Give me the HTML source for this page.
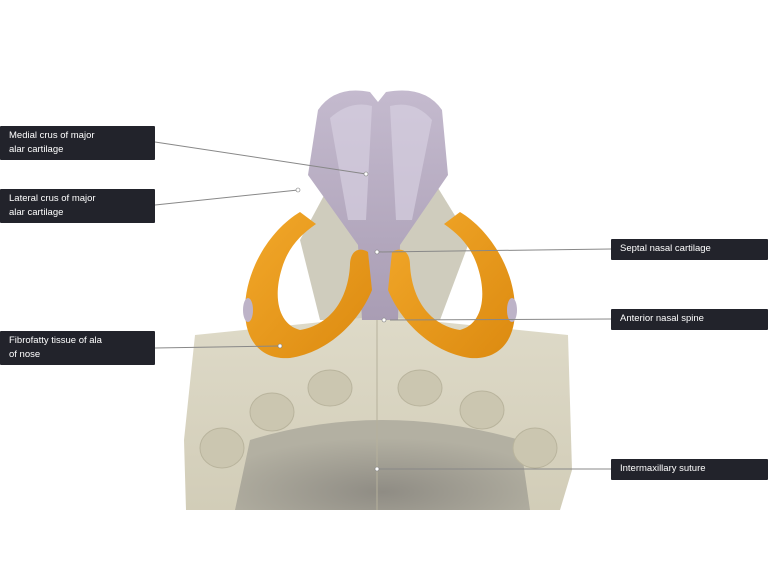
<!DOCTYPE html>
<html><head><style>
body{margin:0;background:#fff;width:768px;height:577px;overflow:hidden;position:relative;font-family:"Liberation Sans",sans-serif}
.l{position:absolute;background:#22232b;color:#fff;font-size:9.5px;line-height:14px;padding:3px 9px;box-sizing:border-box;border-radius:1px}
</style></head><body>
<svg width="768" height="577" style="position:absolute;left:0;top:0">
<defs>
<linearGradient id="bone" x1="0" y1="0" x2="0" y2="1"><stop offset="0" stop-color="#dedac8"/><stop offset="1" stop-color="#d2cdb8"/></linearGradient>
<radialGradient id="pal" cx="0.5" cy="0.8" r="0.6"><stop offset="0" stop-color="#8f8c84"/><stop offset="1" stop-color="#b3b0a2"/></radialGradient>
<linearGradient id="lil" x1="0" y1="0" x2="0" y2="1"><stop offset="0" stop-color="#c4bace"/><stop offset="1" stop-color="#a99db4"/></linearGradient>
<linearGradient id="or" x1="0" y1="0" x2="1" y2="1"><stop offset="0" stop-color="#f2a82a"/><stop offset="1" stop-color="#dc8a10"/></linearGradient>
</defs>
<!-- background gray wings -->
<path d="M335 175 L300 240 L320 320 L440 320 L470 240 L430 175 Z" fill="#cfccbd"/>
<!-- bone plate -->
<path d="M195 335 L380 316 L568 335 L572 470 L560 510 L186 510 L184 440 Z" fill="url(#bone)"/>
<path d="M250 440 Q380 400 520 440 L530 510 L235 510 Z" fill="url(#pal)"/>
<g fill="#cbc6b0" stroke="#b9b49d">
<ellipse cx="222" cy="448" rx="22" ry="20"/><ellipse cx="272" cy="412" rx="22" ry="19"/><ellipse cx="330" cy="388" rx="22" ry="18"/>
<ellipse cx="420" cy="388" rx="22" ry="18"/><ellipse cx="482" cy="410" rx="22" ry="19"/><ellipse cx="535" cy="448" rx="22" ry="20"/>
</g>
<line x1="377" y1="320" x2="377" y2="510" stroke="#b6b19c"/>
<!-- lilac cartilage -->
<path d="M318 110 Q335 85 370 92 L378 102 L386 92 Q425 85 442 110 L448 175 L400 245 L398 320 L362 320 L358 245 L308 175 Z" fill="url(#lil)"/>
<path d="M330 118 Q350 100 372 106 L366 220 L348 220 Z" fill="#d6cee0" opacity=".7"/>
<path d="M390 106 Q415 100 432 120 L412 220 L396 220 Z" fill="#d6cee0" opacity=".7"/>
<!-- orange crura (U-shaped) -->
<path d="M300 212 C270 230 245 270 245 310 C245 345 265 360 290 358 C330 352 360 320 372 290 L368 252 C358 246 350 252 350 265 C348 300 330 325 300 330 C280 325 272 300 282 268 C288 248 300 235 316 224 Z" fill="url(#or)"/>
<path d="M460 212 C490 230 515 270 515 310 C515 345 495 360 470 358 C430 352 400 320 388 290 L392 252 C402 246 410 252 410 265 C412 300 430 325 460 330 C480 325 488 300 478 268 C472 248 460 235 444 224 Z" fill="url(#or)"/>
<ellipse cx="248" cy="310" rx="5" ry="12" fill="#bdb3c8"/><ellipse cx="512" cy="310" rx="5" ry="12" fill="#bdb3c8"/>
<g stroke="#888" stroke-width="1" fill="none">
<line x1="155" y1="142" x2="366" y2="174"/>
<line x1="155" y1="205" x2="298" y2="190"/>
<line x1="155" y1="348" x2="280" y2="346"/>
<line x1="611" y1="249" x2="377" y2="252"/>
<line x1="611" y1="319" x2="390" y2="320"/>
<line x1="611" y1="469" x2="377" y2="469"/>
</g>
<g fill="#fff" stroke="#777" stroke-width=".6">
<circle cx="366" cy="174" r="2"/><circle cx="298" cy="190" r="2"/><circle cx="280" cy="346" r="2"/>
<circle cx="377" cy="252" r="2"/><circle cx="384" cy="320" r="2"/><circle cx="377" cy="469" r="2"/>
</g>
</svg>
<div class="l" style="left:0;top:126px;width:155px;height:34px">Medial crus of major<br>alar cartilage</div>
<div class="l" style="left:0;top:189px;width:155px;height:34px">Lateral crus of major<br>alar cartilage</div>
<div class="l" style="left:0;top:331px;width:155px;height:34px">Fibrofatty tissue of ala<br>of nose</div>
<div class="l" style="left:611px;top:239px;width:157px;height:21px">Septal nasal cartilage</div>
<div class="l" style="left:611px;top:309px;width:157px;height:21px">Anterior nasal spine</div>
<div class="l" style="left:611px;top:459px;width:157px;height:21px">Intermaxillary suture</div>
</body></html>
